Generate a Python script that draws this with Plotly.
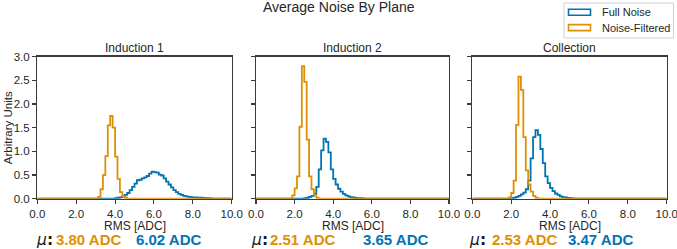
import plotly.graph_objects as go

# ---------------- data ----------------
BIN_WIDTH = 0.125
N_BINS = 80
panel_titles = ["Induction 1", "Induction 2", "Collection"]
series_names = ["Full Noise", "Noise-Filtered"]

# Full Noise (blue) histograms: first bin lower edge + bin heights
full_start = [4.0, 2.5, 2.0]
full_ind1 = [0.01, 0.02, 0.03, 0.05, 0.08, 0.12, 0.18, 0.25, 0.32, 0.39,
             0.40, 0.43, 0.45, 0.48, 0.53, 0.57, 0.56, 0.55, 0.51, 0.49,
             0.43, 0.36, 0.30, 0.24, 0.18, 0.14, 0.10, 0.08, 0.06, 0.05,
             0.04, 0.035, 0.03, 0.025, 0.02, 0.02, 0.015, 0.01, 0.01, 0.005]
full_ind2 = [0.01, 0.02, 0.04, 0.06, 0.10, 0.25, 0.62, 1.02, 1.27, 1.20,
             0.98, 0.62, 0.42, 0.30, 0.21, 0.15, 0.10, 0.07, 0.05, 0.035,
             0.025, 0.015, 0.01, 0.01, 0.005]
full_coll = [0.01, 0.02, 0.04, 0.06, 0.09, 0.13, 0.20, 0.38, 0.85, 1.30,
             1.45, 1.35, 1.05, 0.75, 0.47, 0.33, 0.23, 0.16, 0.11, 0.08,
             0.05, 0.035, 0.025, 0.015, 0.01, 0.005]

# Noise-Filtered (orange) histograms
filt_start = [3.125, 1.875, 1.875]
filt_ind1 = [0.04, 0.20, 0.50, 0.90, 1.55, 1.75, 1.50, 0.89, 0.42, 0.14, 0.05, 0.02]
filt_ind2 = [0.07, 0.22, 0.47, 1.52, 2.80, 2.47, 1.25, 0.47, 0.20, 0.08, 0.02]
filt_coll = [0.03, 0.12, 0.38, 1.56, 2.58, 2.30, 1.30, 0.60, 0.30, 0.15, 0.06, 0.02]

# mean RMS labels
mean_filt = ["3.80", "2.51", "2.53"]
mean_full = ["6.02", "3.65", "3.47"]

x_ticks = [0, 2, 4, 6, 8, 10]
y_ticks = [0.0, 0.5, 1.0, 1.5, 2.0, 2.5, 3.0]

# ---------------- style ----------------
W, H = 677, 249
BLUE = "#0173B2"
ORANGE = "#DE8F05"
SPINE = "#3a3a3a"
TXT = "#262626"
FONT = "Liberation Sans, Arial, Helvetica, sans-serif"

# panel geometry in pixels
panel_left = [37.3, 256.0, 472.3]
panel_right = [231.7, 449.0, 666.7]
panel_top = 56.7
panel_bottom = 198.7


def px_x(p):
    return p / W


def px_y(p):
    return 1 - p / H


def full_hist(start, heights):
    vals = [0.0] * N_BINS
    i0 = int(round(start / BIN_WIDTH))
    for k, v in enumerate(heights):
        vals[i0 + k] = v
    edges = [i * BIN_WIDTH for i in range(N_BINS + 1)]
    xs = [edges[0]] + edges[:-1] + [edges[-1], edges[-1]]
    ys = [0.0] + vals + [vals[-1], 0.0]
    return xs, ys


full_data = [full_ind1, full_ind2, full_coll]
filt_data = [filt_ind1, filt_ind2, filt_coll]

fig = go.Figure()

for i in range(3):
    ax = "" if i == 0 else str(i + 1)
    for name, start, data, color in [
        (series_names[0], full_start[i], full_data[i], BLUE),
        (series_names[1], filt_start[i], filt_data[i], ORANGE),
    ]:
        xs, ys = full_hist(start, data)
        fig.add_trace(go.Scatter(
            x=xs, y=ys, mode="lines", line=dict(color=color, width=1.8, shape="hv"),
            name=name, showlegend=False, xaxis="x" + ax, yaxis="y" + ax,
            hoverinfo="skip",
        ))

layout = dict(
    width=W, height=H, autosize=False,
    margin=dict(l=0, r=0, t=0, b=0, pad=0, autoexpand=False),
    paper_bgcolor="white", plot_bgcolor="white",
    font=dict(family=FONT, color=TXT, size=11),
    showlegend=False,
)

for i in range(3):
    ax = "" if i == 0 else str(i + 1)
    layout["xaxis" + ax] = dict(
        domain=[px_x(panel_left[i]), px_x(panel_right[i])],
        anchor="y" + ax, range=[0, 10], automargin=False,
        tickvals=x_ticks, tickformat=".1f", ticklabeloverflow="allow",
        ticks="outside", ticklen=4, tickwidth=1.1, tickcolor=SPINE,
        showline=True, linecolor=SPINE, linewidth=1.3, mirror=True,
        showgrid=False, zeroline=False,
        tickfont=dict(size=11.5, color=TXT, family=FONT),
    )
    layout["yaxis" + ax] = dict(
        domain=[px_y(panel_bottom), px_y(panel_top)],
        anchor="x" + ax, range=[0, 3], automargin=False,
        tickvals=y_ticks, tickformat=".1f", ticklabeloverflow="allow",
        showticklabels=(i == 0),
        ticks="outside", ticklen=4, tickwidth=1.1, tickcolor=SPINE,
        showline=True, linecolor=SPINE, linewidth=1.3, mirror=True,
        showgrid=False, zeroline=False,
        tickfont=dict(size=11.5, color=TXT, family=FONT),
    )

fig.update_layout(**layout)

ann = []
# title
ann.append(dict(text="Average Noise By Plane", x=px_x(338.5), y=px_y(7.0),
                xref="paper", yref="paper", showarrow=False,
                xanchor="center", yanchor="middle",
                font=dict(size=14, color=TXT, family=FONT)))
# y label
ann.append(dict(text="Arbitrary Units", x=px_x(7.5), y=px_y(127.7),
                xref="paper", yref="paper", showarrow=False, textangle=-90,
                xanchor="center", yanchor="middle",
                font=dict(size=11.5, color=TXT, family=FONT)))

mu_x = [35, 250, 468]
filt_x = [55, 269, 491]
full_x = [135, 362, 567]
for i in range(3):
    cx = (panel_left[i] + panel_right[i]) / 2
    ann.append(dict(text=panel_titles[i], x=px_x(cx), y=px_y(48),
                    xref="paper", yref="paper", showarrow=False,
                    xanchor="center", yanchor="middle",
                    font=dict(size=12, color=TXT, family=FONT)))
    ann.append(dict(text="RMS [ADC]", x=px_x(cx), y=px_y(226),
                    xref="paper", yref="paper", showarrow=False,
                    xanchor="center", yanchor="middle", borderpad=0,
                    font=dict(size=12, color=TXT, family=FONT)))
    ann.append(dict(text="<i>μ</i><b>:</b>", x=px_x(mu_x[i]), y=px_y(239.5),
                    xref="paper", yref="paper", showarrow=False,
                    xanchor="left", yanchor="middle", borderpad=0,
                    font=dict(size=15.5, color="#1a1a1a", family="DejaVu Sans, sans-serif")))
    ann.append(dict(text="<b>%s ADC</b>" % mean_filt[i], x=px_x(filt_x[i]), y=px_y(239.5),
                    xref="paper", yref="paper", showarrow=False,
                    xanchor="left", yanchor="middle", borderpad=0,
                    font=dict(size=15, color=ORANGE, family=FONT)))
    ann.append(dict(text="<b>%s ADC</b>" % mean_full[i], x=px_x(full_x[i]), y=px_y(239.5),
                    xref="paper", yref="paper", showarrow=False,
                    xanchor="left", yanchor="middle", borderpad=0,
                    font=dict(size=15, color=BLUE, family=FONT)))

# legend (drawn manually to mimic outlined-rectangle patches)
legend_items = [(series_names[0], BLUE, 12.2), (series_names[1], ORANGE, 27.6)]
shapes = [dict(type="rect", xref="paper", yref="paper",
               x0=px_x(564), x1=px_x(673.5), y0=px_y(38), y1=px_y(3),
               line=dict(color="#d0d0d0", width=1), fillcolor="white", layer="above")]
for name, color, yc in legend_items:
    shapes.append(dict(type="rect", xref="paper", yref="paper",
                       x0=px_x(568.5), x1=px_x(590.5), y0=px_y(yc + 3), y1=px_y(yc - 3),
                       line=dict(color=color, width=1.6), fillcolor="rgba(0,0,0,0)",
                       layer="above"))
    ann.append(dict(text=name, x=px_x(600), y=px_y(yc), xref="paper", yref="paper",
                    showarrow=False, xanchor="left", yanchor="middle",
                    font=dict(size=11, color=TXT, family=FONT)))

fig.update_layout(annotations=ann, shapes=shapes)
fig.write_html("out.html", config={"displayModeBar": False, "staticPlot": True},
               post_script="document.body.style.margin='0';document.body.style.overflow='hidden';")
